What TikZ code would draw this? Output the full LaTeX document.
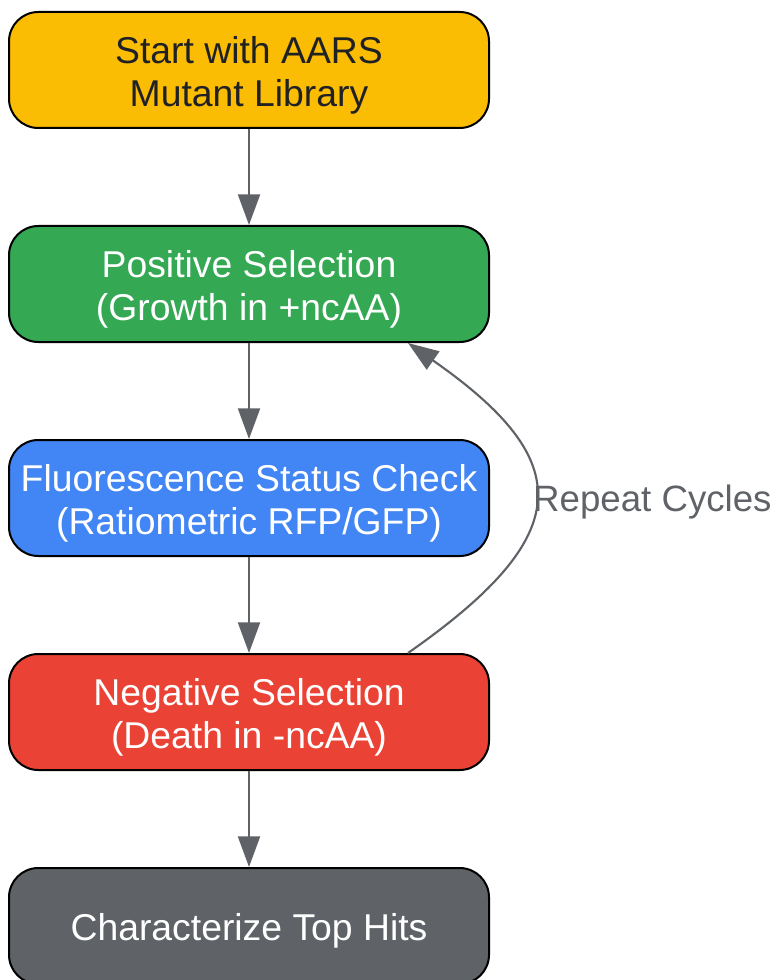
\documentclass[tikz,border=0pt]{standalone}
\usepackage{fontspec}
\setmainfont{Liberation Sans}
\usetikzlibrary{arrows.meta}
\definecolor{gyellow}{HTML}{FBBC04}
\definecolor{ggreen}{HTML}{34A853}
\definecolor{gblue}{HTML}{4285F4}
\definecolor{gred}{HTML}{EA4335}
\definecolor{ggray}{HTML}{5F6368}
\definecolor{gdark}{HTML}{202124}
\newcommand{\topgap}{\rule{0pt}{28pt}}

\begin{document}
\begin{tikzpicture}[x=0.75pt,y=-0.75pt,
	stage/.style={draw=black,line width=1.5pt,rounded corners=22pt,minimum width=360pt,minimum height=87pt,
		inner sep=2pt,align=center,text=white,font=\fontsize{28}{32}\selectfont},
	flow/.style={draw=ggray,line width=1.6pt,-{Triangle[length=23pt,width=16.5pt]}}]
		\useasboundingbox (0,0) rectangle (775,980);
		\node[stage,fill=gyellow,text=gdark] (start) at (249,70) {\topgap Start with AARS\\Mutant Library};
		\node[stage,fill=ggreen] (pos) at (249,284) {\topgap Positive Selection\\(Growth in +ncAA)};
		\node[stage,fill=gblue] (check) at (249,498) {\topgap Fluorescence Status Check\\(Ratiometric RFP/GFP)};
		\node[stage,fill=gred] (neg) at (249,712) {\topgap Negative Selection\\(Death in -ncAA)};
		\node[stage,fill=ggray] (hits) at (249,926) {\topgap Characterize Top Hits};
		\draw[flow] (start) -- (pos);
		\draw[flow] (pos) -- (check);
		\draw[flow] (check) -- (neg);
		\draw[flow] (neg) -- (hits);
		% loop back for more rounds
		\draw[flow] ([xshift=-61.5pt]neg.north east) .. controls +(169,-118) and +(169,118) .. ([xshift=-61.5pt]pos.south east)
			node[midway,anchor=west,xshift=-2pt,yshift=-3pt,inner sep=0pt,text=ggray,font=\fontsize{27.5}{32}\selectfont] (rep) {Repeat Cycles};
\end{tikzpicture}
\end{document}
